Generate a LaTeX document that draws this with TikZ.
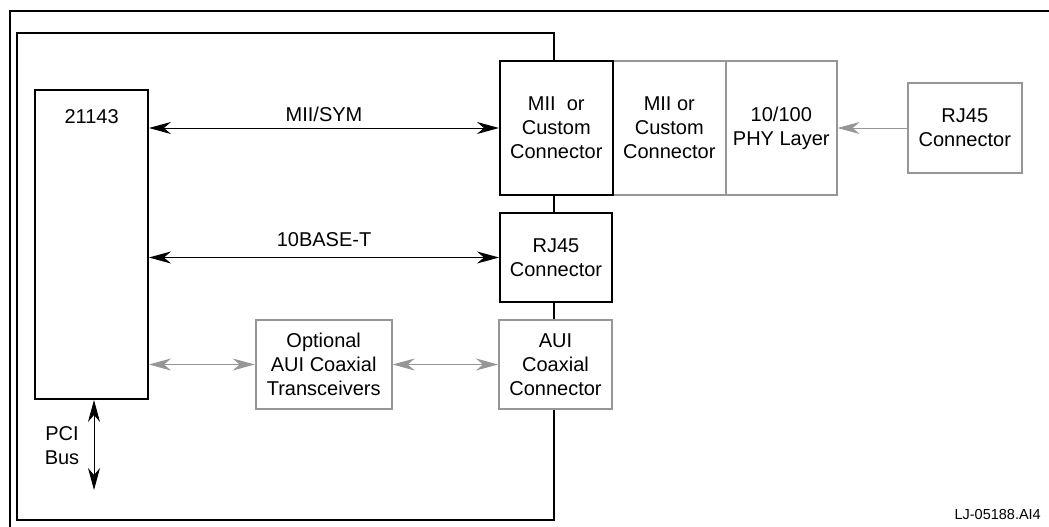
\documentclass[tikz,border=0pt]{standalone}
\usepackage{fontspec}
\setmainfont{Liberation Sans}
\usetikzlibrary{arrows.meta}
\definecolor{lightline}{RGB}{150,150,150}

\begin{document}
\begin{tikzpicture}[x=1pt,y=-1pt,
  every node/.style={font=\fontsize{20}{24}\selectfont, align=center, inner sep=0pt},
  blk/.style={draw=black, line width=2pt, fill=white},
  gry/.style={draw=lightline, line width=2pt, fill=white},
  link/.style={line width=1pt, {Stealth[length=22pt,width=12pt,inset=7pt]}-{Stealth[length=22pt,width=12pt,inset=7pt]}},
  glink/.style={link, draw=lightline, fill=lightline},
]
\useasboundingbox (0,0) rectangle (1049,527);
% frame and board
\draw [line width=2pt] (10,527) -- (10,11) -- (1049,11);
\draw [line width=2pt] (16.7,32.7) rectangle (554,520);
% chip
\node [blk, minimum width=112.7pt, minimum height=309pt] (chip) at (91.6,244.5) {};
\node (chiplbl) at (91.6,117) {21143};
% connectors on the board edge
\node [gry, minimum width=113.3pt, minimum height=134pt] (miiopt) at (669.3,128) {MII or\\Custom\\Connector};
\node [gry, minimum width=110.7pt, minimum height=134pt] (phy) at (781.3,128) {10/100\\PHY Layer};
\node [blk, minimum width=112.7pt, minimum height=134pt] (mii) at (556.3,128) {MII~ or\\Custom\\Connector};
\node [gry, minimum width=113.7pt, minimum height=90pt] (rjext) at (964.8,128) {RJ45\\Connector};
\node [blk, minimum width=112pt, minimum height=89pt] (rj) at (556,257.5) {RJ45\\Connector};
\node [gry, minimum width=113pt, minimum height=89pt] (aui) at (555.5,364.5) {AUI\\Coaxial\\Connector};
\node [gry, minimum width=136pt, minimum height=89pt] (opt) at (323.7,364.5) {Optional\\AUI Coaxial\\Transceivers};
% links
\draw [link] (chip.east |- mii.west) -- (mii.west);
\node (miilbl) at (324,114) {MII/SYM};
\draw [link] (chip.east |- rj.west) -- (rj.west);
\node (tenlbl) at (324,240) {10BASE-T};
\draw [glink] (chip.east |- opt.west) -- (opt.west);
\draw [glink] (opt.east) -- (aui.west);
\draw [line width=1pt, draw=lightline, fill=lightline, -{Stealth[length=22pt,width=12pt,inset=7pt]}] (rjext.west) -- (phy.east);
\coordinate (pcibus) at (94,490);
\draw [link] (chip.south -| pcibus) -- (pcibus);
\node (pcilbl) at (62,446) {PCI\\Bus};
\node [anchor=east, font=\fontsize{14.5}{17}\selectfont] (figid) at (1041,515) {LJ-05188.AI4};
\end{tikzpicture}
\end{document}
